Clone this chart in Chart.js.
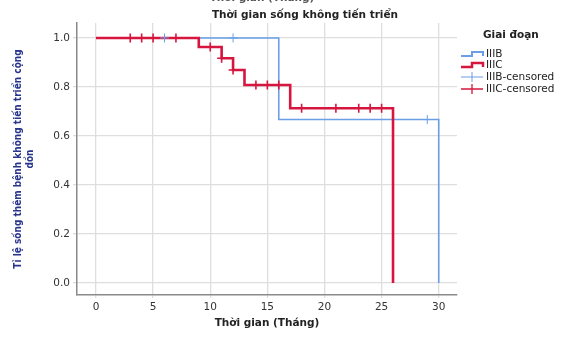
<!DOCTYPE html>
<html>
<head>
<meta charset="utf-8">
<script src="https://cdn.jsdelivr.net/npm/chart.js@4.4.1/dist/chart.umd.min.js"></script>
<style>
    html, body { margin: 0; padding: 0; background: #ffffff; }
    #wrap { width: 562px; height: 340px; }
</style>
</head>
<body>
<div id="wrap"><canvas id="kmChart" width="562" height="340"></canvas></div>
<script>
// Kaplan-Meier steps
const stageLabels = ['IIIB', 'IIIC'];
const iiibTimes = [0, 16, 30];
const iiibSurv = [1.0, 0.667, 0];
const iiicTimes = [0, 9, 11, 12, 13, 17, 26];
const iiicSurv = [1.0, 0.963, 0.917, 0.869, 0.808, 0.713, 0];
const iiibCensored = [6, 12, 29];
const iiicCensored = [3, 4, 5, 7, 10, 11, 12, 14, 15, 16, 18, 21, 23, 24, 25];
const xTicks = [0, 5, 10, 15, 20, 25, 30];
const yTicks = [0, 0.2, 0.4, 0.6, 0.8, 1.0];

const blueColor = '#6a9fe6';
const redColor = '#d6163f';
const fontName = '"DejaVu Sans", Verdana, sans-serif';

// survival level at time t (step lookup)
function levelAt(times, surv, t) {
    let s = surv[0];
    for (let i = 0; i < times.length; i++) {
        if (times[i] <= t) s = surv[i];
    }
    return s;
}

function toPoints(times, surv) {
    return times.map((t, i) => ({ x: t, y: surv[i] }));
}

function censorPoints(cens, times, surv) {
    return cens.map(t => ({ x: t, y: levelAt(times, surv, t) }));
}

// Title, legend and the clipped text at the very top
const decorPlugin = {
    id: 'decor',
    afterDraw(chart) {
        const ctx = chart.ctx;
        ctx.save();

        // cut-off text at the top edge
        ctx.fillStyle = '#555';
        ctx.font = 'bold 10.5px ' + fontName;
        ctx.textAlign = 'center';
        ctx.textBaseline = 'alphabetic';
        ctx.fillText('Thời gian (Tháng)', 262, 1.2);

        // title
        ctx.fillStyle = '#222';
        ctx.font = 'bold 10.5px ' + fontName;
        ctx.textBaseline = 'middle';
        ctx.fillText('Thời gian sống không tiến triển', 305, 15);

        // legend
        ctx.textAlign = 'left';
        ctx.font = 'bold 10.5px ' + fontName;
        ctx.fillText('Giai đoạn', 483, 35);

        ctx.font = '10.5px ' + fontName;
        const items = [
            { text: 'IIIB', color: blueColor, kind: 'step', w: 2, y: 54 },
            { text: 'IIIC', color: redColor, kind: 'step', w: 2.5, y: 65 },
            { text: 'IIIB-censored', color: blueColor, kind: 'cross', w: 1, y: 77 },
            { text: 'IIIC-censored', color: redColor, kind: 'cross', w: 1.3, y: 89 }
        ];
        items.forEach(it => {
            ctx.strokeStyle = it.color;
            ctx.lineWidth = it.w;
            ctx.beginPath();
            if (it.kind === 'step') {
                ctx.moveTo(461, it.y + 2);
                ctx.lineTo(472, it.y + 2);
                ctx.lineTo(472, it.y - 2);
                ctx.lineTo(483, it.y - 2);
                ctx.lineTo(483, it.y + 2);
            } else {
                ctx.moveTo(461, it.y);
                ctx.lineTo(483, it.y);
                ctx.moveTo(472, it.y - 5);
                ctx.lineTo(472, it.y + 5);
            }
            ctx.stroke();
            ctx.fillStyle = '#222';
            ctx.fillText(it.text, 486, it.y);
        });

        ctx.restore();
    }
};

const ctx = document.getElementById('kmChart');

new Chart(ctx, {
    type: 'line',
    data: {
        datasets: [
            {
                label: 'IIIC-censored',
                data: censorPoints(iiicCensored, iiicTimes, iiicSurv),
                showLine: false,
                pointStyle: 'cross',
                pointRadius: 4.5,
                borderColor: redColor,
                backgroundColor: redColor,
                pointBorderWidth: 1.6,
                order: 0
            },
            {
                label: 'IIIB-censored',
                data: censorPoints(iiibCensored, iiibTimes, iiibSurv),
                showLine: false,
                pointStyle: 'cross',
                pointRadius: 4.5,
                borderColor: blueColor,
                backgroundColor: blueColor,
                pointBorderWidth: 1,
                order: 0
            },
            {
                label: stageLabels[1],
                data: toPoints(iiicTimes, iiicSurv),
                stepped: 'before',
                borderColor: redColor,
                borderWidth: 2.6,
                pointRadius: 0,
                fill: false,
                order: 1
            },
            {
                label: stageLabels[0],
                data: toPoints(iiibTimes, iiibSurv),
                stepped: 'before',
                borderColor: blueColor,
                borderWidth: 1.6,
                pointRadius: 0,
                fill: false,
                order: 2
            }
        ]
    },
    options: {
        responsive: false,
        animation: false,
        devicePixelRatio: 1,
        layout: {
            padding: { top: 23, right: 105, left: 0, bottom: 0 }
        },
        plugins: {
            legend: { display: false },
            tooltip: { enabled: false },
            title: { display: false }
        },
        scales: {
            x: {
                type: 'linear',
                min: -1.66,
                max: 31.6,
                afterBuildTicks: axis => {
                    axis.ticks = xTicks.map(v => ({ value: v }));
                },
                afterFit: axis => {
                    axis.height = 45;
                },
                grid: {
                    color: '#dedede',
                    lineWidth: 1.3,
                    tickLength: 3
                },
                border: { display: true, color: '#8a8a8a', width: 1.5 },
                ticks: {
                    color: '#333',
                    padding: 3,
                    maxRotation: 0,
                    font: { family: fontName, size: 10.5 },
                    callback: v => v
                },
                title: {
                    display: true,
                    text: 'Thời gian (Tháng)',
                    color: '#222',
                    font: { family: fontName, size: 10.5, weight: 'bold' },
                    padding: { top: 0, bottom: 10 }
                }
            },
            y: {
                min: -0.049,
                max: 1.061,
                afterBuildTicks: axis => {
                    axis.ticks = yTicks.map(v => ({ value: v }));
                },
                afterFit: axis => {
                    axis.width = 77;
                },
                grid: {
                    color: '#dedede',
                    lineWidth: 1.3,
                    tickLength: 4
                },
                border: { display: true, color: '#8a8a8a', width: 1.5 },
                ticks: {
                    color: '#333',
                    padding: 3,
                    font: { family: fontName, size: 10.5 },
                    callback: v => v.toFixed(1)
                },
                title: {
                    display: true,
                    text: ['Tỉ lệ sống thêm bệnh không tiến triển cộng', 'dồn'],
                    color: '#27358c',
                    font: { family: '"DejaVu Sans Condensed", "DejaVu Sans", sans-serif', size: 10, weight: 'bold' },
                    padding: { top: 12, bottom: 0 }
                }
            }
        }
    },
    plugins: [decorPlugin]
});
</script>
</body>
</html>
